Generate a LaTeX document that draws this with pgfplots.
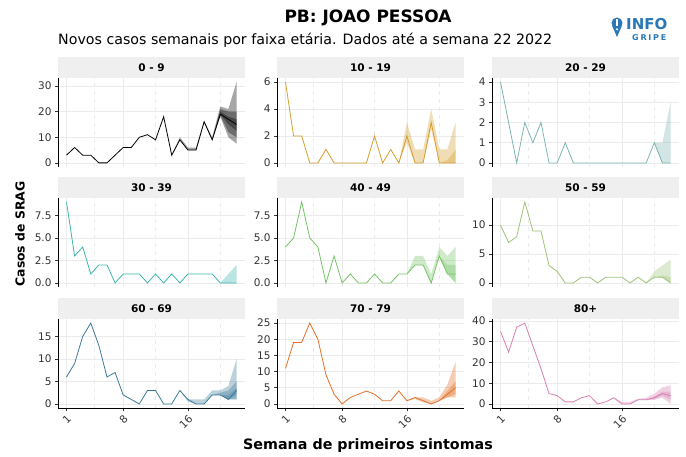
\documentclass[border=0pt]{standalone}
\usepackage{fontspec}
\setmainfont{DejaVu Sans}
\usepackage{pgfplots}
\pgfplotsset{compat=1.18}

\definecolor{cA}{HTML}{000000}
\definecolor{cB}{HTML}{D39E2B}
\definecolor{cC}{HTML}{7DB5B3}
\definecolor{cD}{HTML}{3AB5AE}
\definecolor{cE}{HTML}{74C365}
\definecolor{cF}{HTML}{9DC276}
\definecolor{cG}{HTML}{3D7A99}
\definecolor{cH}{HTML}{E27027}
\definecolor{cI}{HTML}{D77FB3}
\definecolor{logoblue}{HTML}{2A78B8}
\definecolor{stripgrey}{HTML}{EFEFEF}
\definecolor{gridgrey}{HTML}{EBEBEB}

\pgfplotsset{
  panel/.style={
    scale only axis, width=187pt, height=89pt,
    xmin=-0.05, xmax=23.05,
    axis lines=left, axis line style={-, black, line width=0.6pt},
    xtick={1,8,16}, minor xtick={4.5,12,20},
    xmajorgrids, xminorgrids, ymajorgrids,
    major grid style={draw=gridgrey, line width=0.7pt},
    minor grid style={draw=gridgrey, line width=0.7pt, dash pattern=on 4pt off 4pt},
    tick align=outside, major tick length=3pt, minor tick length=0pt,
    tick style={black!80, line width=0.6pt},
    ticklabel style={font=\fontsize{10.5}{12}\selectfont, text=black!80},
    /pgf/number format/assume math mode=true,
  },
  toprow/.style={xticklabels=\empty, x axis line style={draw=none}, xtick style={draw=none}},
  bottomrow/.style={xticklabel style={rotate=45, anchor=north east, inner sep=2pt}},
  series/.style={draw=#1, line width=0.8pt},
  band/.style={draw=none, fill=#1, fill opacity=0.35},
}
\tikzset{strip/.style={anchor=south, fill=stripgrey, minimum width=187pt, minimum height=21pt,
  inner sep=0pt, font=\bfseries\fontsize{10.5}{12}\selectfont}}

\begin{document}
\begin{tikzpicture}
\useasboundingbox (0,0) rectangle (686pt,-457pt);

% ---------- row 1 ----------
\begin{axis}[panel, toprow, name=p1, at={(58pt,-167pt)}, anchor=south west,
  ymin=-1.6, ymax=33.1, ytick={0,10,20,30}]
\addplot[band=cA] coordinates {(14,3)(15,10)(16,6)(17,6)(18,16.5)(19,10)(20,22)(21,21)(22,31.5)
  (22,7.5)(21,10)(20,18)(19,9)(18,16)(17,5)(16,5)(15,9)(14,3)};
\addplot[band=cA] coordinates {(19,9)(20,21)(21,20)(22,20)(22,10)(21,12)(20,18.5)(19,9)};
\addplot[band=cA] coordinates {(19,9)(20,20)(21,18)(22,17)(22,12.5)(21,15)(20,19)(19,9)};
\addplot[series=cA] coordinates {(1,3)(2,6)(3,3)(4,3)(5,0)(6,0)(7,3)(8,6)(9,6)(10,10)(11,11)
  (12,9)(13,18)(14,3)(15,9)(16,5)(17,5)(18,16)(19,9)(20,19)(21,17)(22,15)};
\end{axis}
\node[strip] at (p1.north) {0 - 9};

\begin{axis}[panel, toprow, name=p2, at={(277pt,-167pt)}, anchor=south west,
  ymin=-0.3, ymax=6.3, ytick={0,2,4,6}]
\addplot[band=cB] coordinates {(15,0)(16,3)(17,1)(18,1)(19,4)(20,1)(21,1)(22,3)
  (22,0)(21,0)(20,0)(19,2.5)(18,0)(17,0)(16,1.5)(15,0)};
\addplot[band=cB] coordinates {(20,0)(21,0.2)(22,1)(22,0)(21,0)(20,0)};
\addplot[series=cB] coordinates {(1,6)(2,2)(3,2)(4,0)(5,0)(6,1)(7,0)(8,0)(9,0)(10,0)(11,0)
  (12,2)(13,0)(14,1)(15,0)(16,2)(17,0)(18,0)(19,3)(20,0)(21,0)(22,0)};
\end{axis}
\node[strip] at (p2.north) {10 - 19};

\begin{axis}[panel, toprow, name=p3, at={(492pt,-167pt)}, anchor=south west,
  ymin=-0.2, ymax=4.2, ytick={0,1,2,3,4}]
\addplot[band=cC] coordinates {(19,0)(20,1)(21,1)(22,3)(22,0)(21,0)(20,1)(19,0)};
\addplot[series=cC] coordinates {(1,4)(2,2)(3,0)(4,2)(5,1)(6,2)(7,0)(8,0)(9,1)(10,0)(11,0)
  (12,0)(13,0)(14,0)(15,0)(16,0)(17,0)(18,0)(19,0)(20,1)(21,0)(22,0)};
\end{axis}
\node[strip] at (p3.north) {20 - 29};

% ---------- row 2 ----------
\begin{axis}[panel, toprow, name=p4, at={(58pt,-287pt)}, anchor=south west,
  ymin=-0.45, ymax=9.45, ytick={0,2.5,5,7.5},
  yticklabel style={/pgf/number format/.cd, fixed, fixed zerofill, precision=1}]
\addplot[band=cD] coordinates {(20,0)(21,1)(22,2)(22,0)(21,0)(20,0)};
\addplot[series=cD] coordinates {(1,9)(2,3)(3,4)(4,1)(5,2)(6,2)(7,0)(8,1)(9,1)(10,1)(11,0)
  (12,1)(13,0)(14,1)(15,0)(16,1)(17,1)(18,1)(19,1)(20,0)(21,0)(22,0)};
\end{axis}
\node[strip] at (p4.north) {30 - 39};

\begin{axis}[panel, toprow, name=p5, at={(277pt,-287pt)}, anchor=south west,
  ymin=-0.45, ymax=9.45, ytick={0,2.5,5,7.5},
  yticklabel style={/pgf/number format/.cd, fixed, fixed zerofill, precision=1}]
\addplot[band=cE] coordinates {(16,1)(17,3)(18,3)(19,1)(20,4)(21,3)(22,4)
  (22,0)(21,1)(20,3)(19,0)(18,2)(17,2)(16,1)};
\addplot[band=cE] coordinates {(20,3)(21,2)(22,2)(22,0)(21,1)(20,3)};
\addplot[series=cE] coordinates {(1,4)(2,5)(3,9)(4,5)(5,4)(6,0)(7,3)(8,0)(9,1)(10,0)(11,0)
  (12,1)(13,0)(14,0)(15,1)(16,1)(17,2)(18,2)(19,0)(20,3)(21,1)(22,1)};
\end{axis}
\node[strip] at (p5.north) {40 - 49};

\begin{axis}[panel, toprow, name=p6, at={(492pt,-287pt)}, anchor=south west,
  ymin=-0.7, ymax=14.7, ytick={0,5,10}]
\addplot[band=cF] coordinates {(19,0)(20,2)(21,3)(22,4)(22,0)(21,1)(20,1)(19,0)};
\addplot[band=cF] coordinates {(20,1)(21,1.3)(22,1)(22,0)(21,1)(20,1)};
\addplot[series=cF] coordinates {(1,10)(2,7)(3,8)(4,14)(5,9)(6,9)(7,3)(8,2)(9,0)(10,0)(11,1)
  (12,1)(13,0)(14,1)(15,1)(16,1)(17,0)(18,1)(19,0)(20,1)(21,1)(22,0)};
\end{axis}
\node[strip] at (p6.north) {50 - 59};

% ---------- row 3 ----------
\begin{axis}[panel, bottomrow, name=p7, at={(58pt,-408pt)}, anchor=south west,
  ymin=-0.9, ymax=18.9, ytick={0,5,10,15}]
\addplot[band=cG] coordinates {(15,3)(16,1)(17,1)(18,1)(19,3)(20,3)(21,4)(22,10)
  (22,1)(21,1)(20,2)(19,2)(18,0)(17,0)(16,0.5)(15,3)};
\addplot[band=cG] coordinates {(19,2)(20,2.5)(21,3)(22,5)(22,1)(21,1)(20,2)(19,2)};
\addplot[band=cG] coordinates {(20,2)(21,2)(22,3.5)(22,2)(21,1)(20,2)};
\addplot[series=cG] coordinates {(1,6)(2,9)(3,15)(4,18)(5,13)(6,6)(7,7)(8,2)(9,1)(10,0)(11,3)
  (12,3)(13,0)(14,0)(15,3)(16,1)(17,0)(18,0)(19,2)(20,2)(21,1)(22,3)};
\end{axis}
\node[strip] at (p7.north) {60 - 69};

\begin{axis}[panel, bottomrow, name=p8, at={(277pt,-408pt)}, anchor=south west,
  ymin=-1.25, ymax=26.25, ytick={0,5,10,15,20,25}]
\addplot[band=cH] coordinates {(16,1)(17,2)(18,2)(19,1)(20,2)(21,6)(22,13)
  (22,2)(21,2)(20,1)(19,0)(18,0.5)(17,1.5)(16,1)};
\addplot[band=cH] coordinates {(20,1)(21,4)(22,7)(22,3)(21,2)(20,1)};
\addplot[series=cH] coordinates {(1,11)(2,19)(3,19)(4,25)(5,20)(6,9)(7,3)(8,0)(9,2)(10,3)(11,4)
  (12,3)(13,1)(14,1)(15,4)(16,1)(17,2)(18,1)(19,0)(20,1)(21,3)(22,5)};
\end{axis}
\node[strip] at (p8.north) {70 - 79};

\begin{axis}[panel, bottomrow, name=p9, at={(492pt,-408pt)}, anchor=south west,
  ymin=-1.95, ymax=40.95, ytick={0,10,20,30,40}]
\addplot[band=cI] coordinates {(15,3)(16,1)(17,1)(18,2.5)(19,3)(20,5)(21,8)(22,9)
  (22,0)(21,3)(20,2)(19,2)(18,2)(17,0)(16,0)(15,3)};
\addplot[band=cI] coordinates {(19,2)(20,3.5)(21,6)(22,6)(22,2)(21,4)(20,2.5)(19,2)};
\addplot[series=cI] coordinates {(1,35)(2,25)(3,37)(4,39)(5,28)(6,17)(7,5)(8,4)(9,1)(10,1)(11,3)
  (12,4)(13,0)(14,1)(15,3)(16,0)(17,0)(18,2)(19,2)(20,3)(21,5)(22,4)};
\end{axis}
\node[strip] at (p9.north) {80+};

% ---------- titles ----------
\node[font=\bfseries\fontsize{17}{19}\selectfont] at (368pt,-18pt) {PB: JOAO PESSOA};
\node[anchor=west, font=\fontsize{14.2}{16}\selectfont, inner sep=0pt] at (58pt,-40pt)
  {Novos casos semanais por faixa etária. Dados até a semana 22 2022};
\node[rotate=90, font=\bfseries\fontsize{12.4}{15}\selectfont] at (20pt,-234pt) {Casos de SRAG};
\node[font=\bfseries\fontsize{14.3}{16}\selectfont] at (368pt,-446pt) {Semana de primeiros sintomas};

% ---------- logo ----------
\fill[logoblue] (617pt,-23pt) circle (5.5pt);
\fill[logoblue] (612pt,-25.5pt) -- (617pt,-37pt) -- (622pt,-25.5pt) -- cycle;
\fill[white] (616pt,-26.5pt) rectangle (618pt,-19pt);
\fill[white] (617pt,-29.3pt) circle (1.2pt);
\node[anchor=west, text=logoblue, font=\bfseries\fontsize{15}{15}\selectfont, inner sep=0pt]
  at (626pt,-24pt) {INFO};
\node[anchor=west, text=logoblue, font=\bfseries\fontsize{8}{8}\selectfont, inner sep=0pt]
  at (632pt,-37.5pt) {\addfontfeature{LetterSpace=22}GRIPE};
\end{tikzpicture}
\end{document}
